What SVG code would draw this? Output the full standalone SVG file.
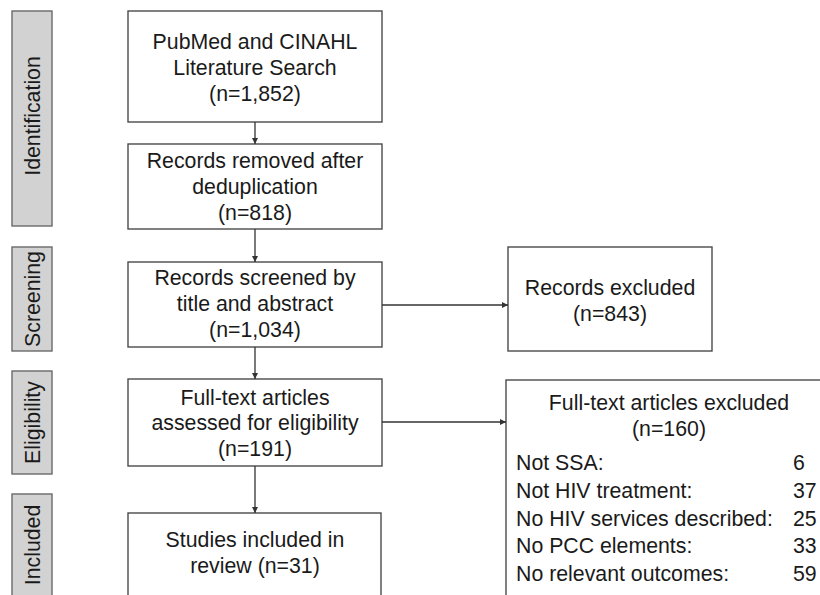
<svg xmlns="http://www.w3.org/2000/svg" width="820" height="595" viewBox="0 0 820 595">
<style>
  .box { fill: #ffffff; stroke: #4a4a4a; stroke-width: 1.4; }
  .side { fill: #d2d2d2; stroke: #6a6a6a; stroke-width: 1.4; }
  text { font-family: "Liberation Sans", Arial, Helvetica, sans-serif; font-size: 21.3px; fill: #1a1a1a; }
  .c { text-anchor: middle; }
  .conn { stroke: #333333; stroke-width: 1.3; fill: none; marker-end: url(#arr); }
</style>
<defs>
  <marker id="arr" viewBox="0 0 10 10" refX="10" refY="5" markerWidth="6" markerHeight="6" orient="auto" markerUnits="userSpaceOnUse">
    <path d="M0,0 L10,5 L0,10 z" fill="#333333"/>
  </marker>
</defs>
<rect width="820" height="595" fill="#ffffff"/>

<g id="stage-identification">
  <rect class="side" x="12" y="11" width="40" height="215"/>
  <text class="c" transform="translate(40,116) rotate(-90)">Identification</text>
</g>
<g id="stage-screening">
  <rect class="side" x="12" y="247" width="40" height="104"/>
  <text class="c" transform="translate(40,299) rotate(-90)">Screening</text>
</g>
<g id="stage-eligibility">
  <rect class="side" x="12" y="371" width="40" height="103"/>
  <text class="c" transform="translate(40,422.5) rotate(-90)">Eligibility</text>
</g>
<g id="stage-included">
  <rect class="side" x="12" y="494" width="40" height="110"/>
  <text class="c" transform="translate(40,545) rotate(-90)">Included</text>
</g>

<g id="search">
  <rect class="box" x="128" y="11" width="254" height="111"/>
  <text class="c" x="255" y="49">PubMed and CINAHL</text>
  <text class="c" x="255" y="75">Literature Search</text>
  <text class="c" x="255" y="101">(n=1,852)</text>
</g>
<g id="dedup">
  <rect class="box" x="128" y="144" width="254" height="85"/>
  <text class="c" x="255" y="168">Records removed after</text>
  <text class="c" x="255" y="194">deduplication</text>
  <text class="c" x="255" y="220">(n=818)</text>
</g>
<g id="screened">
  <rect class="box" x="128" y="262" width="254" height="85"/>
  <text class="c" x="255" y="285">Records screened by</text>
  <text class="c" x="255" y="311">title and abstract</text>
  <text class="c" x="255" y="337">(n=1,034)</text>
</g>
<g id="fulltext">
  <rect class="box" x="128" y="379" width="254" height="87"/>
  <text class="c" x="255" y="405">Full-text articles</text>
  <text class="c" x="255" y="430">assessed for eligibility</text>
  <text class="c" x="255" y="456">(n=191)</text>
</g>
<g id="included">
  <rect class="box" x="128" y="513" width="253" height="95"/>
  <text class="c" x="255" y="547">Studies included in</text>
  <text class="c" x="255" y="573">review (n=31)</text>
</g>
<g id="records-excluded">
  <rect class="box" x="508" y="247" width="204" height="104"/>
  <text class="c" x="610" y="295">Records excluded</text>
  <text class="c" x="610" y="321">(n=843)</text>
</g>
<g id="fulltext-excluded">
  <rect class="box" x="506" y="380" width="330" height="230"/>
  <text class="c" x="669" y="410">Full-text articles excluded</text>
  <text class="c" x="669" y="436">(n=160)</text>
  <text x="516" y="470">Not SSA:</text>
  <text x="793" y="470">6</text>
  <text x="516" y="498">Not HIV treatment:</text>
  <text x="793" y="498">37</text>
  <text x="516" y="526">No HIV services described:</text>
  <text x="793" y="526">25</text>
  <text x="516" y="553">No PCC elements:</text>
  <text x="793" y="553">33</text>
  <text x="516" y="581">No relevant outcomes:</text>
  <text x="793" y="581">59</text>
</g>

<g id="connectors">
  <line class="conn" x1="255" y1="122" x2="255" y2="144"/>
  <line class="conn" x1="255" y1="229" x2="255" y2="262"/>
  <line class="conn" x1="255" y1="347" x2="255" y2="379"/>
  <line class="conn" x1="255" y1="466" x2="255" y2="513"/>
  <line class="conn" x1="382" y1="305" x2="508" y2="305"/>
  <line class="conn" x1="382" y1="422" x2="506" y2="422"/>
</g>
</svg>
